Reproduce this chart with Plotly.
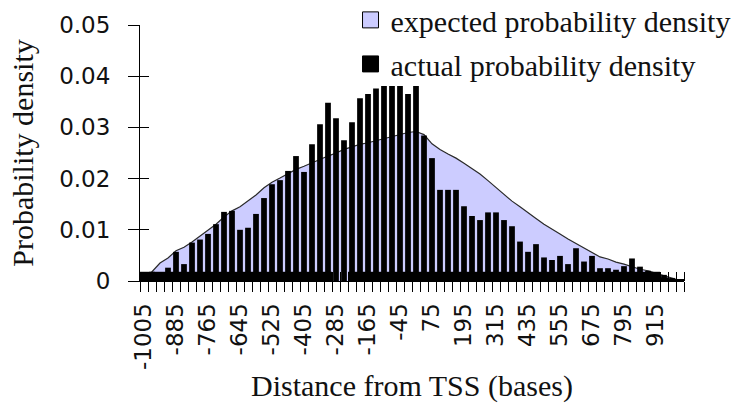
import plotly.graph_objects as go

# Bins of 30 bases, centred from -1005 to 1005
bin_centers = list(range(-1005, 1006, 30))

# Expected probability density (area), one value per bin
expected = [
    0.0006, 0.0018, 0.0035, 0.0045, 0.0059, 0.0066, 0.0076, 0.0088, 0.0100, 0.0111,
    0.0125, 0.0137, 0.0145, 0.0156, 0.0168, 0.0182, 0.0193, 0.0201, 0.0210, 0.0218,
    0.0224, 0.0231, 0.0238, 0.0244, 0.0250, 0.0257, 0.0262, 0.0267, 0.0270, 0.0274,
    0.0278, 0.0282, 0.0286, 0.0290, 0.0292, 0.0286, 0.0268, 0.0257, 0.0248, 0.0240,
    0.0230, 0.0220, 0.0209, 0.0196, 0.0183, 0.0170, 0.0156, 0.0145, 0.0133, 0.0122,
    0.0111, 0.0102, 0.0092, 0.0082, 0.0073, 0.0064, 0.0056, 0.0047, 0.0043, 0.0037,
    0.0033, 0.0028, 0.0023, 0.0020, 0.0015, 0.0010, 0.0005, 0.0001,
]

# Actual probability density (bars), one value per bin
actual = [
    0.0010, 0.0018, 0.0015, 0.0026, 0.0057, 0.0033, 0.0075, 0.0081, 0.0092, 0.0111,
    0.0135, 0.0137, 0.0100, 0.0104, 0.0131, 0.0162, 0.0189, 0.0197, 0.0215, 0.0244,
    0.0213, 0.0267, 0.0306, 0.0348, 0.0318, 0.0275, 0.0310, 0.0357, 0.0365, 0.0376,
    0.0381, 0.0381, 0.0381, 0.0365, 0.0381, 0.0284, 0.0240, 0.0178, 0.0178, 0.0178,
    0.0146, 0.0127, 0.0119, 0.0134, 0.0134, 0.0119, 0.0107, 0.0077, 0.0057, 0.0072,
    0.0046, 0.0041, 0.0049, 0.0033, 0.0064, 0.0038, 0.0049, 0.0025, 0.0025, 0.0022,
    0.0029, 0.0044, 0.0028, 0.0020, 0.0017, 0.0012, 0.0006, 0.0003,
]

# Low full-width baseline blocks under the bars
baseline = [
    0.0018, 0.0018, 0.0018, 0.0018, 0.0018, 0.0018, 0.0018, 0.0018, 0.0018, 0.0018,
    0.0018, 0.0018, 0.0018, 0.0018, 0.0018, 0.0018, 0.0018, 0.0018, 0.0018, 0.0018,
    0.0018, 0.0018, 0.0018, 0.0018, 0.0, 0.0, 0.0018, 0.0018, 0.0018, 0.0018,
    0.0018, 0.0018, 0.0018, 0.0018, 0.0018, 0.0018, 0.0018, 0.0018, 0.0018, 0.0018,
    0.0018, 0.0018, 0.0018, 0.0018, 0.0018, 0.0018, 0.0018, 0.0018, 0.0018, 0.0018,
    0.0018, 0.0018, 0.0018, 0.0018, 0.0018, 0.0018, 0.0018, 0.0018, 0.0018, 0.0018,
    0.0018, 0.0018, 0.0018, 0.0018, 0.0018, 0.0007, 0.0004, 0.0003,
]

# Labelled categories on the x axis
tick_values = list(range(-1005, 916, 120))
tick_labels = [str(v) for v in tick_values]

SERIF = "Liberation Serif"
SANS = "DejaVu Sans"
LAVENDER = "#CCCCFF"
TEXT = "#111"

fig = go.Figure()

# Expected density as a filled area, drawn behind the bars
fig.add_trace(go.Scatter(
    x=bin_centers, y=expected, mode="lines", fill="tozeroy",
    fillcolor=LAVENDER, line=dict(color="#2a2a2a", width=1.2),
    showlegend=False, hoverinfo="skip", xaxis="x", yaxis="y",
))
fig.add_trace(go.Bar(
    x=bin_centers, y=baseline, width=30, marker=dict(color="black", line=dict(width=0)),
    showlegend=False, hoverinfo="skip", xaxis="x2", yaxis="y2",
))
fig.add_trace(go.Bar(
    x=bin_centers, y=actual, width=21.5, name="actual probability density",
    marker=dict(color="black", line=dict(width=0)),
    showlegend=False, xaxis="x2", yaxis="y2",
))

# Square legend keys for the two series
fig.add_trace(go.Scatter(
    x=[None], y=[None], mode="markers", name="expected probability density",
    marker=dict(symbol="square", size=16, color=LAVENDER, line=dict(color="black", width=1)),
    xaxis="x2", yaxis="y2", legend="legend",
))
fig.add_trace(go.Scatter(
    x=[None], y=[None], mode="markers", name="actual probability density",
    marker=dict(symbol="square", size=16, color="black", line=dict(color="black", width=1)),
    xaxis="x2", yaxis="y2", legend="legend2",
))

x_range = [-1020, 1020]
y_range = [0, 0.05]
legend_style = dict(
    xanchor="left", yanchor="middle", itemsizing="trace",
    bgcolor="rgba(0,0,0,0)", borderwidth=0,
    font=dict(family=SERIF, size=30, color=TEXT),
)

fig.update_layout(
    width=731, height=404,
    margin=dict(l=140, r=47, t=25, b=123, autoexpand=False),
    paper_bgcolor="white", plot_bgcolor="white",
    barmode="overlay",
    font=dict(family=SANS, color=TEXT),
    xaxis=dict(
        range=x_range, showgrid=False, zeroline=False, automargin=False,
        showline=True, linecolor="black", linewidth=1,
        tickmode="array", tickvals=tick_values, ticktext=tick_labels,
        ticks="", tickangle=-90, ticklabelstandoff=12,
        tickfont=dict(family=SANS, size=23, color=TEXT),
        minor=dict(ticks="outside", tick0=-1020, dtick=30, ticklen=10,
                   tickcolor="black", tickwidth=1, showgrid=False),
    ),
    xaxis2=dict(
        range=x_range, overlaying="x", anchor="y2", side="bottom",
        showgrid=False, zeroline=False, showline=False, automargin=False,
        showticklabels=False, ticks="",
        minor=dict(ticks="inside", tick0=-1020, dtick=30, ticklen=9,
                   tickcolor="black", tickwidth=1, showgrid=False),
    ),
    yaxis=dict(
        range=y_range, dtick=0.01, showgrid=False, zeroline=False,
        showline=True, linecolor="black", linewidth=1, automargin=False,
        ticks="outside", ticklen=11, tickcolor="black",
        ticklabelstandoff=13,
        tickfont=dict(family=SANS, size=23, color=TEXT),
        title=dict(text="Probability density", standoff=16,
                   font=dict(family=SERIF, size=30, color=TEXT)),
    ),
    yaxis2=dict(
        range=y_range, overlaying="y", anchor="x2", dtick=0.01,
        showgrid=False, zeroline=False, showline=False, automargin=False,
        showticklabels=False, ticks="inside", ticklen=9, tickcolor="black",
    ),
    legend=dict(x=0.387, y=1.020, **legend_style),
    legend2=dict(x=0.387, y=0.848, **legend_style),
    annotations=[dict(
        text="Distance from TSS (bases)", xref="paper", yref="paper",
        x=0.5, y=-0.41, xanchor="center", yanchor="middle", showarrow=False,
        font=dict(family=SERIF, size=30, color=TEXT),
    )],
)

fig.write_html("out.html")
